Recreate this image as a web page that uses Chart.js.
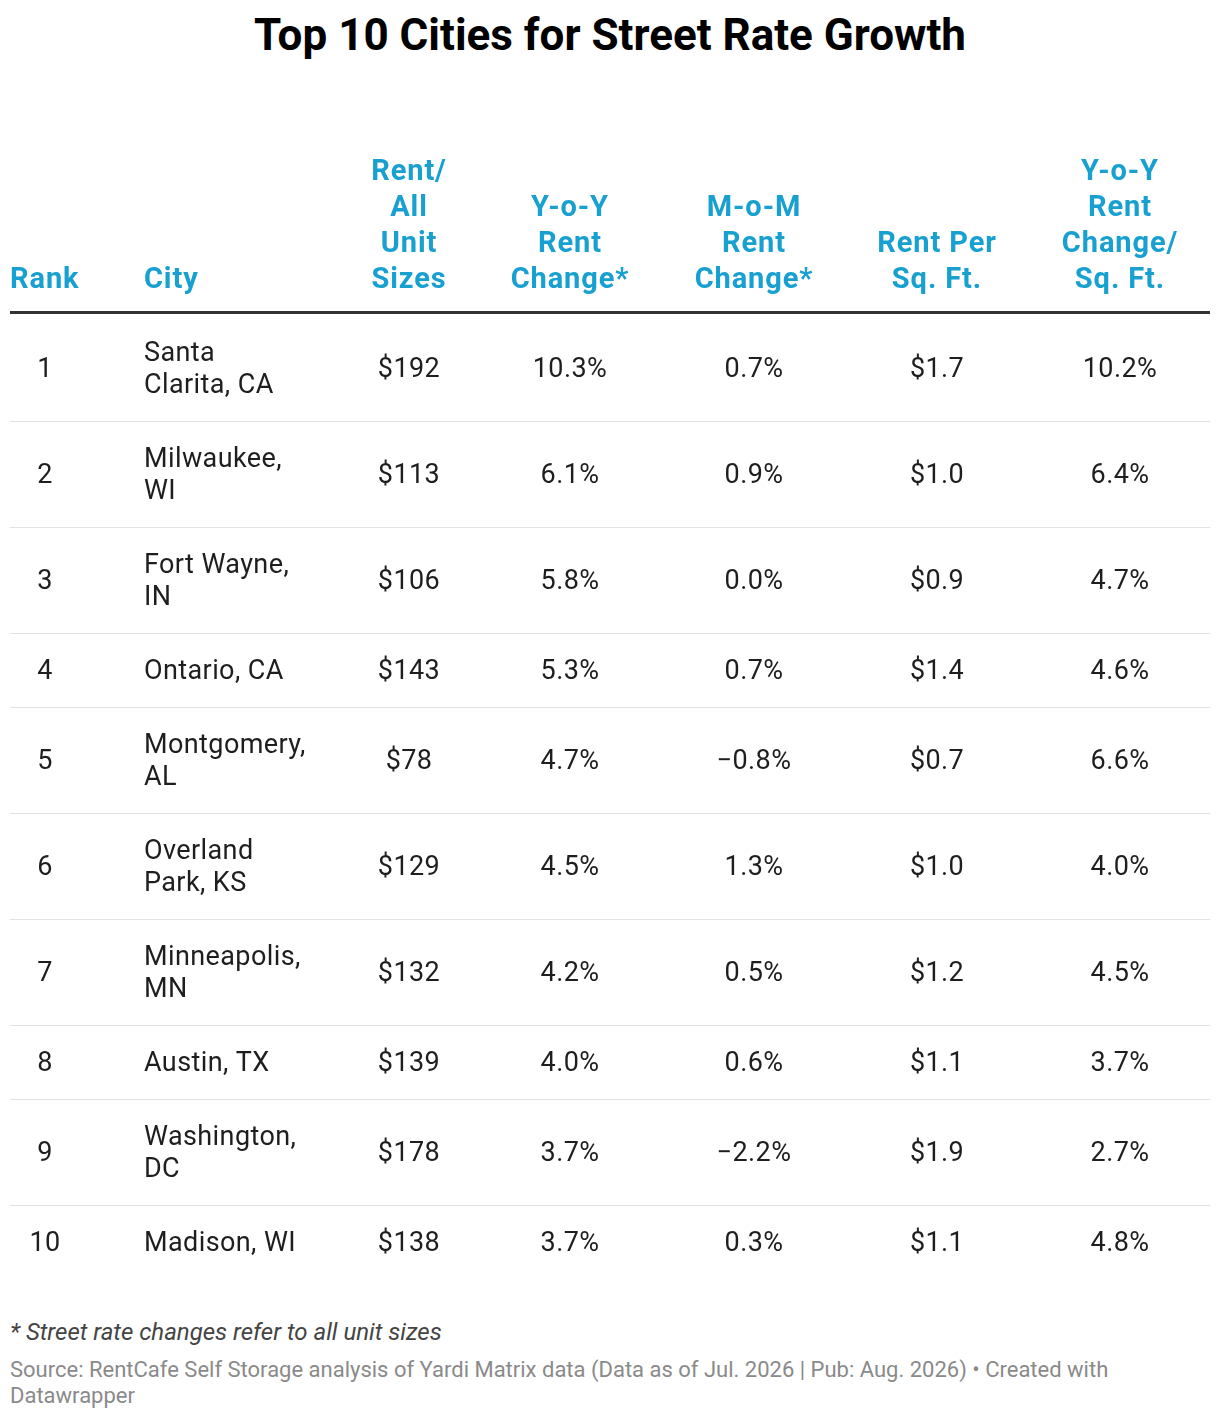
<!DOCTYPE html>
<html lang="en">
<head>
    <meta charset="UTF-8">
    <title>Top 10 Cities for Street Rate Growth</title>
    <script src="https://cdn.jsdelivr.net/npm/chart.js"></script>
    <style>
        body {
            margin: 0;
            background: white;
            font-family: Roboto, Arial, sans-serif;
            width: 1220px;
            height: 1418px;
            position: relative;
            overflow: hidden;
        }
        h1 {
            position: absolute;
            top: 13px; left: 0;
            width: 1220px;
            margin: 0;
            text-align: center;
            font-size: 44px;
            line-height: 1;
            font-weight: 700;
            color: #000;
        }
        #tableChart { position: absolute; top: 130px; left: 0; }
        .note {
            position: absolute;
            left: 10px; top: 1320px;
            margin: 0;
            font-size: 24px;
            line-height: 1;
            font-style: italic;
            color: #444;
        }
        .source {
            position: absolute;
            left: 10px; top: 1357px;
            width: 1180px;
            margin: 0;
            font-size: 22px;
            line-height: 26px;
            color: #8a8a8a;
        }
    </style>
</head>
<body>
    <h1>Top 10 Cities for Street Rate Growth</h1>
    <canvas id="tableChart" width="1220" height="1160"></canvas>
    <p class="note">* Street rate changes refer to all unit sizes</p>
    <p class="source">Source: RentCafe Self Storage analysis of Yardi Matrix data (Data as of Jul. 2026 | Pub: Aug. 2026) • Created with<br>Datawrapper</p>

    <script>
        // table values
        const ranks = [1, 2, 3, 4, 5, 6, 7, 8, 9, 10];
        const cityLines = [
            ['Santa', 'Clarita, CA'], ['Milwaukee,', 'WI'], ['Fort Wayne,', 'IN'], ['Ontario, CA'],
            ['Montgomery,', 'AL'], ['Overland', 'Park, KS'], ['Minneapolis,', 'MN'], ['Austin, TX'],
            ['Washington,', 'DC'], ['Madison, WI']
        ];
        const rentAll = [192, 113, 106, 143, 78, 129, 132, 139, 178, 138];
        const yoyChange = [10.3, 6.1, 5.8, 5.3, 4.7, 4.5, 4.2, 4.0, 3.7, 3.7];
        const momChange = [0.7, 0.9, 0.0, 0.7, -0.8, 1.3, 0.5, 0.6, -2.2, 0.3];
        const rentPerSqFt = [1.7, 1.0, 0.9, 1.4, 0.7, 1.0, 1.2, 1.1, 1.9, 1.1];
        const yoyPerSqFt = [10.2, 6.4, 4.7, 4.6, 6.6, 4.0, 4.5, 3.7, 2.7, 4.8];
        const headers = [
            ['Rank'], ['City'], ['Rent/', 'All', 'Unit', 'Sizes'], ['Y-o-Y', 'Rent', 'Change*'],
            ['M-o-M', 'Rent', 'Change*'], ['Rent Per', 'Sq. Ft.'], ['Y-o-Y', 'Rent', 'Change/', 'Sq. Ft.']
        ];

        // layout (x units on the hidden linear scale)
        const colX = [35, 134, 399, 560, 744, 927, 1110];
        const headX = [0, 134, 399, 560, 744, 927, 1110];
        const headAlign = ['left', 'left', 'center', 'center', 'center', 'center', 'center'];
        const cellAlign = ['center', 'left', 'center', 'center', 'center', 'center', 'center'];
        const LINE = 32, ROW_PAD = 42, HEAD_LINE = 36;

        const pct = v => (v < 0 ? '\u2212' : '') + Math.abs(v).toFixed(1) + '%';

        const rows = ranks.map((r, i) => [
            [String(r)],
            cityLines[i],
            ['$' + rentAll[i]],
            [pct(yoyChange[i])],
            [pct(momChange[i])],
            ['$' + rentPerSqFt[i].toFixed(1)],
            [pct(yoyPerSqFt[i])]
        ]);

        // row boundaries in y units
        const rowStart = [];
        let total = 0;
        cityLines.forEach(lines => {
            rowStart.push(total);
            total += ROW_PAD + LINE * lines.length;
        });
        rowStart.push(total);

        const tablePlugin = {
            id: 'tableCells',
            afterDraw(chart) {
                const ctx = chart.ctx;
                const x = chart.scales.x, y = chart.scales.y;
                const top = chart.chartArea.top;
                ctx.save();

                // header
                ctx.font = '700 29px Roboto';
                ctx.letterSpacing = '0.9px';
                ctx.fillStyle = '#18a0d0';
                ctx.textBaseline = 'alphabetic';
                headers.forEach((lines, c) => {
                    ctx.textAlign = headAlign[c];
                    const px = x.getPixelForValue(headX[c]);
                    lines.forEach((t, k) => {
                        const base = top - 27 - (lines.length - 1 - k) * HEAD_LINE;
                        ctx.fillText(t, px, base);
                    });
                });

                ctx.strokeStyle = '#333';
                ctx.lineWidth = 3;
                ctx.beginPath();
                ctx.moveTo(chart.chartArea.left, top - 2.5);
                ctx.lineTo(chart.chartArea.right, top - 2.5);
                ctx.stroke();

                // body rows
                ctx.font = '400 27px Roboto';
                ctx.letterSpacing = '0.4px';
                ctx.fillStyle = '#1e1e1e';
                ctx.textBaseline = 'middle';
                rows.forEach((cells, i) => {
                    const y0 = y.getPixelForValue(rowStart[i]);
                    const y1 = y.getPixelForValue(rowStart[i + 1]);
                    const mid = (y0 + y1) / 2 + 2;
                    cells.forEach((lines, c) => {
                        ctx.textAlign = cellAlign[c];
                        const px = x.getPixelForValue(colX[c]);
                        lines.forEach((t, k) => {
                            ctx.fillText(t, px, mid + (k - (lines.length - 1) / 2) * LINE);
                        });
                    });
                    if (i < rows.length - 1) {
                        ctx.strokeStyle = '#e3e3e3';
                        ctx.lineWidth = 1;
                        ctx.beginPath();
                        ctx.moveTo(chart.chartArea.left, Math.round(y1) + 0.5);
                        ctx.lineTo(chart.chartArea.right, Math.round(y1) + 0.5);
                        ctx.stroke();
                    }
                });
                ctx.restore();
            }
        };

        new Chart(document.getElementById('tableChart').getContext('2d'), {
            type: 'scatter',
            data: { datasets: [] },
            options: {
                responsive: false,
                animation: false,
                layout: { padding: { top: 185, bottom: 11, left: 10, right: 10 } },
                plugins: { legend: { display: false }, tooltip: { enabled: false } },
                scales: {
                    x: { type: 'linear', min: 0, max: 1200, display: false },
                    y: { type: 'linear', min: 0, max: total, reverse: true, display: false }
                }
            },
            plugins: [tablePlugin]
        });
    </script>
</body>
</html>
